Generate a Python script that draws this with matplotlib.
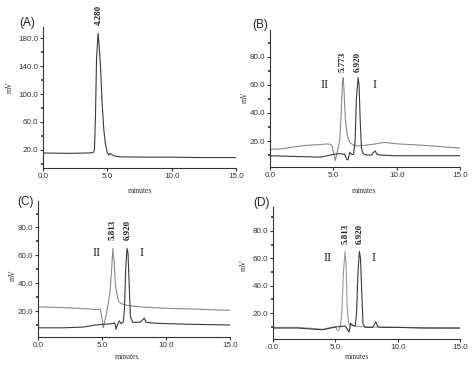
import numpy as np
import matplotlib
matplotlib.use("Agg")
import matplotlib.pyplot as plt
from matplotlib.ticker import FixedLocator, FormatStrFormatter

W, H = 474, 369

A_t = [0, 2, 3.5, 3.9, 4.0, 4.08, 4.16, 4.28, 4.36, 4.47, 4.6, 4.73, 4.86, 5.0,
       5.12, 5.22, 5.35, 5.6, 6.0, 8, 10, 12, 15]
A_v = [15.5, 15, 15.5, 16, 20, 70, 150, 187, 170, 139, 85, 48, 27, 16,
       12.5, 15, 13, 11, 10, 9.5, 9.5, 9, 9]

B_gray_t = [0, 1, 2, 3, 4, 4.6, 4.9, 5.05, 5.15, 5.3, 5.5, 5.62, 5.72, 5.78,
            5.85, 5.95, 6.1, 6.3, 6.6, 7, 8, 9, 10, 12, 15]
B_gray_v = [14, 14.5, 16, 17, 17.5, 18, 17, 10, 6, 12, 20, 40, 62, 65,
            55, 35, 24, 19, 17, 16.5, 17.5, 19, 18, 17, 15]
B_dark_t = [0, 2, 4, 4.5, 5, 5.5, 5.9, 6.05, 6.15, 6.3, 6.45, 6.6, 6.72, 6.82,
            6.95, 7.03, 7.12, 7.22, 7.35, 7.6, 8.0, 8.2, 8.3, 8.45, 8.7, 10, 12, 15]
B_dark_v = [9.5, 9, 8.5, 9.5, 10.5, 11, 10.5, 7, 6.5, 12, 10.5, 10.5, 20, 50,
            65, 60, 35, 15, 11, 10, 10, 12, 13, 10.5, 10, 9.5, 9.5, 9.5]

C_gray_t = [0, 2, 4, 4.6, 4.85, 5.0, 5.1, 5.2, 5.37, 5.5, 5.63, 5.75, 5.85,
            5.95, 6.05, 6.28, 6.6, 7.0, 8, 10, 12, 15]
C_gray_v = [23, 22.5, 21.5, 21, 21.5, 15, 8, 12, 19.5, 26, 34, 50, 65,
            55, 38, 27, 25, 24, 23, 22, 21.5, 20.5]
C_dark_t = [0, 2, 3.5, 4.5, 5.2, 5.8, 6.0, 6.1, 6.2, 6.35, 6.5, 6.65, 6.75,
            6.85, 6.95, 7.03, 7.12, 7.22, 7.4, 8.0, 8.2, 8.3, 8.45, 8.8, 10, 12, 15]
C_dark_v = [8, 8, 8.5, 10, 10.5, 11, 11.5, 7, 10, 13, 11, 12, 20,
            50, 65, 62, 40, 16, 12, 12, 14, 15, 12, 11.5, 11, 10.5, 10]

D_gray_t = [0, 2, 3.5, 4, 4.6, 5.0, 5.15, 5.25, 5.4, 5.52, 5.65, 5.78, 5.86,
            5.95, 6.05, 6.2, 6.5, 7.5, 10, 15]
D_gray_v = [9.5, 9.5, 8.5, 8, 9.5, 10, 7.5, 7, 10, 20, 50, 65, 55,
            25, 13, 11, 10.5, 9.8, 9.5, 9]
D_dark_t = [0, 2, 3.5, 4, 4.6, 5.2, 5.8, 6.0, 6.1, 6.22, 6.4, 6.6, 6.7, 6.82,
            6.93, 7.02, 7.12, 7.22, 7.4, 8.0, 8.15, 8.25, 8.4, 8.7, 10, 12, 15]
D_dark_v = [9, 9, 8, 7.8, 9, 10, 10.5, 7.5, 6, 12.5, 11, 10.5, 20, 50,
            65, 60, 35, 12, 9.5, 9.5, 12, 13.5, 10, 9.5, 9.5, 9, 9]

# panneau : (rect en px [x0, y_haut, x1, y_bas], ylim, ticks majeurs, mineurs)
PANELS = {
    "A": ([43, 27, 236, 168], (-6, 196), [20, 60, 100, 140, 180], [0, 40, 80, 120, 160]),
    "B": ([270, 30, 460, 167], (1.5, 99), [20, 40, 60, 80], [10, 30, 50, 70, 90]),
    "C": ([38, 201, 230, 337], (1.4, 99), [20, 40, 60, 80], [10, 30, 50, 70, 90]),
    "D": ([273, 207, 460, 339], (1.0, 97.5), [20, 40, 60, 80], [10, 30, 50, 70, 90]),
}
TRACES = {
    "A": [(A_t, A_v, "#3a3a3a")],
    "B": [(B_gray_t, B_gray_v, "#8a8a8a"), (B_dark_t, B_dark_v, "#3a3a3a")],
    "C": [(C_gray_t, C_gray_v, "#8a8a8a"), (C_dark_t, C_dark_v, "#3a3a3a")],
    "D": [(D_gray_t, D_gray_v, "#9a9a9a"), (D_dark_t, D_dark_v, "#3a3a3a")],
}
# étiquettes de pics : (t, y_bas, texte)
PEAKS = {
    "A": [(4.35, 199, "4.280")],
    "B": [(5.76, 69, "5.773"), (6.95, 69, "6.920")],
    "C": [(5.86, 71, "5.813"), (7.03, 71, "6.920")],
    "D": [(5.84, 70.5, "5.813"), (6.96, 70.5, "6.920")],
}
ROMAN = {
    "B": [(4.3, 60, "II"), (8.25, 60, "I")],
    "C": [(4.6, 61.5, "II"), (8.1, 61.5, "I")],
    "D": [(4.4, 60, "II"), (8.1, 60, "I")],
}
LETTERS = {"A": (27, 23), "B": (260, 25), "C": (25, 202), "D": (261, 203)}
MV_POS = {"A": (10, 87), "B": (245, 97), "C": (13, 275), "D": (244, 265)}
MIN_POS = {"A": (140, 191), "B": (364, 191), "C": (127, 357), "D": (357, 357)}

SANS = "Liberation Sans"
SERIF = "Liberation Serif"

fig = plt.figure(figsize=(W / 100, H / 100), dpi=100)

for key, (r, ylim, major, minor) in PANELS.items():
    x0, yt, x1, yb = r
    ax = fig.add_axes([x0 / W, 1 - yb / H, (x1 - x0) / W, (yb - yt) / H])
    for t, v, col in TRACES[key]:
        ax.plot(t, v, color=col, lw=0.8)
    ax.set_xlim(0, 15)
    ax.set_ylim(*ylim)
    for s in ("top", "right"):
        ax.spines[s].set_visible(False)
    for s in ("left", "bottom"):
        ax.spines[s].set_color("#333333")
        ax.spines[s].set_linewidth(0.8)
    ax.set_xticks([0, 5, 10, 15])
    ax.yaxis.set_major_locator(FixedLocator(major))
    ax.yaxis.set_minor_locator(FixedLocator(minor))
    ax.xaxis.set_major_formatter(FormatStrFormatter("%.1f"))
    ax.yaxis.set_major_formatter(FormatStrFormatter("%.1f"))
    ax.tick_params(which="major", length=2, width=0.8, pad=1.5, labelsize=5.8,
                   colors="#333333")
    ax.tick_params(which="minor", length=1.5, width=1.2, colors="#333333")
    for lab in ax.get_xticklabels() + ax.get_yticklabels():
        lab.set_family(SANS)

    for t, y, s in PEAKS[key]:
        ax.text(t, y, s, rotation=90, ha="center", va="bottom", fontsize=6.5,
                fontweight="bold", family=SERIF, clip_on=False, color="#222222")
    for t, y, s in ROMAN.get(key, []):
        ax.text(t, y, s, ha="center", va="center", fontsize=9, family=SERIF,
                color="#222222")

    lx, ly = LETTERS[key]
    fig.text(lx / W, 1 - ly / H, f"({key})", ha="center", va="center",
             fontsize=8.5, family=SANS, color="#222222")
    mx, my = MV_POS[key]
    fig.text(mx / W, 1 - my / H, "mV", rotation=90, ha="center", va="center",
             fontsize=5.5, family=SERIF, color="#333333")
    nx, ny = MIN_POS[key]
    fig.text(nx / W, 1 - ny / H, "minutes", ha="center", va="center",
             fontsize=5.5, family=SERIF, color="#333333")

fig.savefig("out.png", dpi=100)
